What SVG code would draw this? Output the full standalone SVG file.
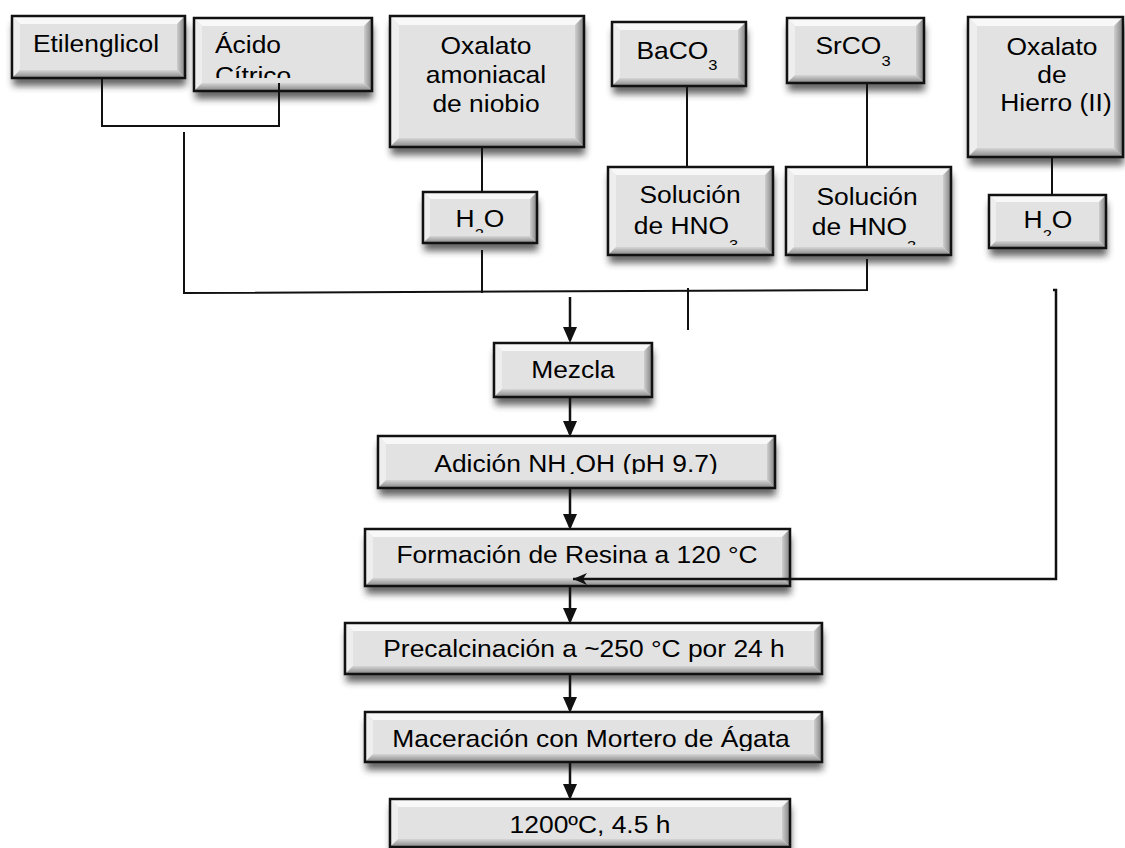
<svg xmlns="http://www.w3.org/2000/svg" width="1125" height="848" viewBox="0 0 1125 848">
<defs>
<style>
.sh{fill:#2a2a2a;opacity:.72;filter:url(#blur)}
.face{fill:#e2e2e2}
.bt{fill:#f8f8f8}
.bl{fill:#eeeeee}
.br{fill:url(#gr)}
.bb{fill:url(#gb)}
.bd{fill:none;stroke:#111;stroke-width:2.5}
.t{font-family:"Liberation Sans",Arial,sans-serif;font-size:24px;fill:#000;text-anchor:middle}
.ts{text-anchor:start}
.s{font-size:15px}
.ln{stroke:#111;stroke-width:2;fill:none}
.ar{stroke:#111;stroke-width:2.5;fill:none;marker-end:url(#ah)}
.al{stroke:#111;stroke-width:2.5;fill:none;marker-end:url(#st)}
</style>
<filter id="blur" x="-10%" y="-20%" width="120%" height="150%"><feGaussianBlur stdDeviation="3.5"/></filter>
<linearGradient id="gr" x1="0" y1="0" x2="1" y2="0"><stop offset="0" stop-color="#cfcfcf"/><stop offset="1" stop-color="#808080"/></linearGradient>
<linearGradient id="gb" x1="0" y1="0" x2="0" y2="1"><stop offset="0" stop-color="#d6d6d6"/><stop offset="1" stop-color="#858585"/></linearGradient>
<marker id="ah" viewBox="0 0 16 14" refX="13" refY="7" markerWidth="16" markerHeight="14" orient="auto" markerUnits="userSpaceOnUse"><path d="M0,0 L16,7 L0,14 z" fill="#111"/></marker>
<marker id="st" viewBox="0 0 14 12" refX="14" refY="6" markerWidth="14" markerHeight="12" orient="auto" markerUnits="userSpaceOnUse"><path d="M0,0 L14,6 L0,12 L4,6 z" fill="#111"/></marker>
<clipPath id="c2"><rect x="194" y="18" width="178" height="60"/></clipPath>
<clipPath id="c4"><rect x="423" y="192" width="114" height="41"/></clipPath>
<clipPath id="c6"><rect x="608" y="167" width="165" height="78"/></clipPath>
<clipPath id="c8"><rect x="786" y="167" width="165" height="78"/></clipPath>
<clipPath id="c10"><rect x="989" y="195" width="117" height="41"/></clipPath>
<clipPath id="c12"><rect x="378" y="436" width="397" height="38"/></clipPath>
<clipPath id="c15"><rect x="365" y="712" width="457" height="39"/></clipPath>
<clipPath id="c16"><rect x="390" y="799" width="400" height="38"/></clipPath>
</defs>
<rect width="1125" height="848" fill="#fff"/>

<g id="etilenglicol">
<rect class="sh" x="13" y="24" width="173" height="62"/>
<rect class="face" x="12" y="16" width="173" height="62"/>
<polygon class="bt" points="12,16 185,16 177,24 20,24"/>
<polygon class="bl" points="12,16 20,24 20,70 12,78"/>
<polygon class="br" points="185,16 185,78 177,70 177,24"/>
<polygon class="bb" points="12,78 185,78 177,70 20,70"/>
<rect class="bd" x="12" y="16" width="173" height="62"/>
<text class="t" transform="translate(96 52) scale(1.1 1)">Etilenglicol</text>
</g>

<g id="acido-citrico">
<rect class="sh" x="195" y="26" width="178" height="73"/>
<rect class="face" x="194" y="18" width="178" height="73"/>
<polygon class="bt" points="194,18 372,18 364,26 202,26"/>
<polygon class="bl" points="194,18 202,26 202,83 194,91"/>
<polygon class="br" points="372,18 372,91 364,83 364,26"/>
<polygon class="bb" points="194,91 372,91 364,83 202,83"/>
<rect class="bd" x="194" y="18" width="178" height="73"/>
<g clip-path="url(#c2)">
<text class="t ts" transform="translate(215 53) scale(1.1 1)">Ácido</text>
<text class="t ts" transform="translate(215 84) scale(1.1 1)">Cítrico</text>
</g>
</g>

<g id="oxalato-niobio">
<rect class="sh" x="391" y="24" width="194" height="131"/>
<rect class="face" x="390" y="16" width="194" height="131"/>
<polygon class="bt" points="390,16 584,16 575,25 399,25"/>
<polygon class="bl" points="390,16 399,25 399,138 390,147"/>
<polygon class="br" points="584,16 584,147 575,138 575,25"/>
<polygon class="bb" points="390,147 584,147 575,138 399,138"/>
<rect class="bd" x="390" y="16" width="194" height="131"/>
<text class="t" transform="translate(486 54) scale(1.1 1)">Oxalato</text>
<text class="t" transform="translate(486 83) scale(1.1 1)">amoniacal</text>
<text class="t" transform="translate(486 112) scale(1.1 1)">de niobio</text>
</g>

<g id="h2o-niobio">
<rect class="sh" x="424" y="200" width="114" height="51"/>
<rect class="face" x="423" y="192" width="114" height="51"/>
<polygon class="bt" points="423,192 537,192 530,199 430,199"/>
<polygon class="bl" points="423,192 430,199 430,236 423,243"/>
<polygon class="br" points="537,192 537,243 530,236 530,199"/>
<polygon class="bb" points="423,243 537,243 530,236 430,236"/>
<rect class="bd" x="423" y="192" width="114" height="51"/>
<g clip-path="url(#c4)">
<text class="t" transform="translate(480 227) scale(1.1 1)">H<tspan class="s" dy="12">2</tspan><tspan dy="-12">O</tspan></text>
</g>
</g>

<g id="baco3">
<rect class="sh" x="613" y="30" width="134" height="64"/>
<rect class="face" x="612" y="22" width="134" height="64"/>
<polygon class="bt" points="612,22 746,22 738,30 620,30"/>
<polygon class="bl" points="612,22 620,30 620,78 612,86"/>
<polygon class="br" points="746,22 746,86 738,78 738,30"/>
<polygon class="bb" points="612,86 746,86 738,78 620,78"/>
<rect class="bd" x="612" y="22" width="134" height="64"/>
<text class="t" transform="translate(677 59) scale(1.1 1)">BaCO<tspan class="s" dy="11">3</tspan></text>
</g>

<g id="hno3-ba">
<rect class="sh" x="609" y="175" width="165" height="88"/>
<rect class="face" x="608" y="167" width="165" height="88"/>
<polygon class="bt" points="608,167 773,167 765,175 616,175"/>
<polygon class="bl" points="608,167 616,175 616,247 608,255"/>
<polygon class="br" points="773,167 773,255 765,247 765,175"/>
<polygon class="bb" points="608,255 773,255 765,247 616,247"/>
<rect class="bd" x="608" y="167" width="165" height="88"/>
<g clip-path="url(#c6)">
<text class="t" transform="translate(690 203) scale(1.1 1)">Solución</text>
<text class="t" transform="translate(686 234) scale(1.1 1)">de HNO<tspan class="s" dy="16">3</tspan></text>
</g>
</g>

<g id="srco3">
<rect class="sh" x="788" y="26" width="137" height="65"/>
<rect class="face" x="787" y="18" width="137" height="65"/>
<polygon class="bt" points="787,18 924,18 916,26 795,26"/>
<polygon class="bl" points="787,18 795,26 795,75 787,83"/>
<polygon class="br" points="924,18 924,83 916,75 916,26"/>
<polygon class="bb" points="787,83 924,83 916,75 795,75"/>
<rect class="bd" x="787" y="18" width="137" height="65"/>
<text class="t" transform="translate(853 54) scale(1.1 1)">SrCO<tspan class="s" dy="12">3</tspan></text>
</g>

<g id="hno3-sr">
<rect class="sh" x="787" y="175" width="165" height="88"/>
<rect class="face" x="786" y="167" width="165" height="88"/>
<polygon class="bt" points="786,167 951,167 943,175 794,175"/>
<polygon class="bl" points="786,167 794,175 794,247 786,255"/>
<polygon class="br" points="951,167 951,255 943,247 943,175"/>
<polygon class="bb" points="786,255 951,255 943,247 794,247"/>
<rect class="bd" x="786" y="167" width="165" height="88"/>
<g clip-path="url(#c8)">
<text class="t" transform="translate(867 205) scale(1.1 1)">Solución</text>
<text class="t" transform="translate(864 235) scale(1.1 1)">de HNO<tspan class="s" dy="16">3</tspan></text>
</g>
</g>

<g id="oxalato-hierro">
<rect class="sh" x="969" y="25" width="155" height="140"/>
<rect class="face" x="968" y="17" width="155" height="140"/>
<polygon class="bt" points="968,17 1123,17 1114,26 977,26"/>
<polygon class="bl" points="968,17 977,26 977,148 968,157"/>
<polygon class="br" points="1123,17 1123,157 1114,148 1114,26"/>
<polygon class="bb" points="968,157 1123,157 1114,148 977,148"/>
<rect class="bd" x="968" y="17" width="155" height="140"/>
<text class="t" transform="translate(1052 55) scale(1.1 1)">Oxalato</text>
<text class="t" transform="translate(1052 83) scale(1.1 1)">de</text>
<text class="t" transform="translate(1056 111) scale(1.1 1)">Hierro (II)</text>
</g>

<g id="h2o-hierro">
<rect class="sh" x="990" y="203" width="117" height="53"/>
<rect class="face" x="989" y="195" width="117" height="53"/>
<polygon class="bt" points="989,195 1106,195 1099,202 996,202"/>
<polygon class="bl" points="989,195 996,202 996,241 989,248"/>
<polygon class="br" points="1106,195 1106,248 1099,241 1099,202"/>
<polygon class="bb" points="989,248 1106,248 1099,241 996,241"/>
<rect class="bd" x="989" y="195" width="117" height="53"/>
<g clip-path="url(#c10)">
<text class="t" transform="translate(1048 228) scale(1.1 1)">H<tspan class="s" dy="12">2</tspan><tspan dy="-12">O</tspan></text>
</g>
</g>

<g id="mezcla">
<rect class="sh" x="495" y="351" width="158" height="54"/>
<rect class="face" x="494" y="343" width="158" height="54"/>
<polygon class="bt" points="494,343 652,343 644,351 502,351"/>
<polygon class="bl" points="494,343 502,351 502,389 494,397"/>
<polygon class="br" points="652,343 652,397 644,389 644,351"/>
<polygon class="bb" points="494,397 652,397 644,389 502,389"/>
<rect class="bd" x="494" y="343" width="158" height="54"/>
<text class="t" transform="translate(573 378) scale(1.1 1)">Mezcla</text>
</g>

<g id="adicion">
<rect class="sh" x="379" y="444" width="397" height="52"/>
<rect class="face" x="378" y="436" width="397" height="52"/>
<polygon class="bt" points="378,436 775,436 767,444 386,444"/>
<polygon class="bl" points="378,436 386,444 386,480 378,488"/>
<polygon class="br" points="775,436 775,488 767,480 767,444"/>
<polygon class="bb" points="378,488 775,488 767,480 386,480"/>
<rect class="bd" x="378" y="436" width="397" height="52"/>
<g clip-path="url(#c12)">
<text class="t" transform="translate(576 472) scale(1.1 1)">Adición NH<tspan class="s" dy="10">4</tspan><tspan dy="-10">OH (pH 9.7)</tspan></text>
</g>
</g>

<g id="formacion">
<rect class="sh" x="366" y="537" width="425" height="57"/>
<rect class="face" x="365" y="529" width="425" height="57"/>
<polygon class="bt" points="365,529 790,529 782,537 373,537"/>
<polygon class="bl" points="365,529 373,537 373,578 365,586"/>
<polygon class="br" points="790,529 790,586 782,578 782,537"/>
<polygon class="bb" points="365,586 790,586 782,578 373,578"/>
<rect class="bd" x="365" y="529" width="425" height="57"/>
<text class="t" transform="translate(577 563) scale(1.1 1)">Formación de Resina a 120 °C</text>
</g>

<g id="precalcinacion">
<rect class="sh" x="346" y="631" width="477" height="51"/>
<rect class="face" x="345" y="623" width="477" height="51"/>
<polygon class="bt" points="345,623 822,623 814,631 353,631"/>
<polygon class="bl" points="345,623 353,631 353,666 345,674"/>
<polygon class="br" points="822,623 822,674 814,666 814,631"/>
<polygon class="bb" points="345,674 822,674 814,666 353,666"/>
<rect class="bd" x="345" y="623" width="477" height="51"/>
<text class="t" transform="translate(584 657) scale(1.1 1)">Precalcinación a ~250 °C por 24 h</text>
</g>

<g id="maceracion">
<rect class="sh" x="366" y="720" width="457" height="50"/>
<rect class="face" x="365" y="712" width="457" height="50"/>
<polygon class="bt" points="365,712 822,712 814,720 373,720"/>
<polygon class="bl" points="365,712 373,720 373,754 365,762"/>
<polygon class="br" points="822,712 822,762 814,754 814,720"/>
<polygon class="bb" points="365,762 822,762 814,754 373,754"/>
<rect class="bd" x="365" y="712" width="457" height="50"/>
<g clip-path="url(#c15)">
<text class="t" transform="translate(591 747) scale(1.1 1)">Maceración con Mortero de Ágata</text>
</g>
</g>

<g id="sinterizado">
<rect class="sh" x="391" y="807" width="400" height="48"/>
<rect class="face" x="390" y="799" width="400" height="48"/>
<polygon class="bt" points="390,799 790,799 782,807 398,807"/>
<polygon class="bl" points="390,799 398,807 398,839 390,847"/>
<polygon class="br" points="790,799 790,847 782,839 782,807"/>
<polygon class="bb" points="390,847 790,847 782,839 398,839"/>
<rect class="bd" x="390" y="799" width="400" height="48"/>
<g clip-path="url(#c16)">
<text class="t" transform="translate(590 833) scale(1.1 1)">1200ºC, 4.5 h</text>
</g>
</g>

<g id="connectors">
<path class="ln" d="M102 78V126H279V83"/>
<path class="ln" d="M184 132V293L867 290V259"/>
<path class="ln" d="M482 147V192"/>
<path class="ln" d="M482 250V293"/>
<path class="ln" d="M687 86V167"/>
<path class="ln" d="M688 288V330"/>
<path class="ln" d="M867 83V167"/>
<path class="ln" d="M1052 157V195"/>
<path class="al" d="M1053 290H1056V579H573"/>
<path class="ar" d="M570 297V340"/>
<path class="ar" d="M570 397V434"/>
<path class="ar" d="M570 488V527"/>
<path class="ar" d="M570 586V621"/>
<path class="ar" d="M570 674V710"/>
<path class="ar" d="M570 762V797"/>
</g>
</svg>
